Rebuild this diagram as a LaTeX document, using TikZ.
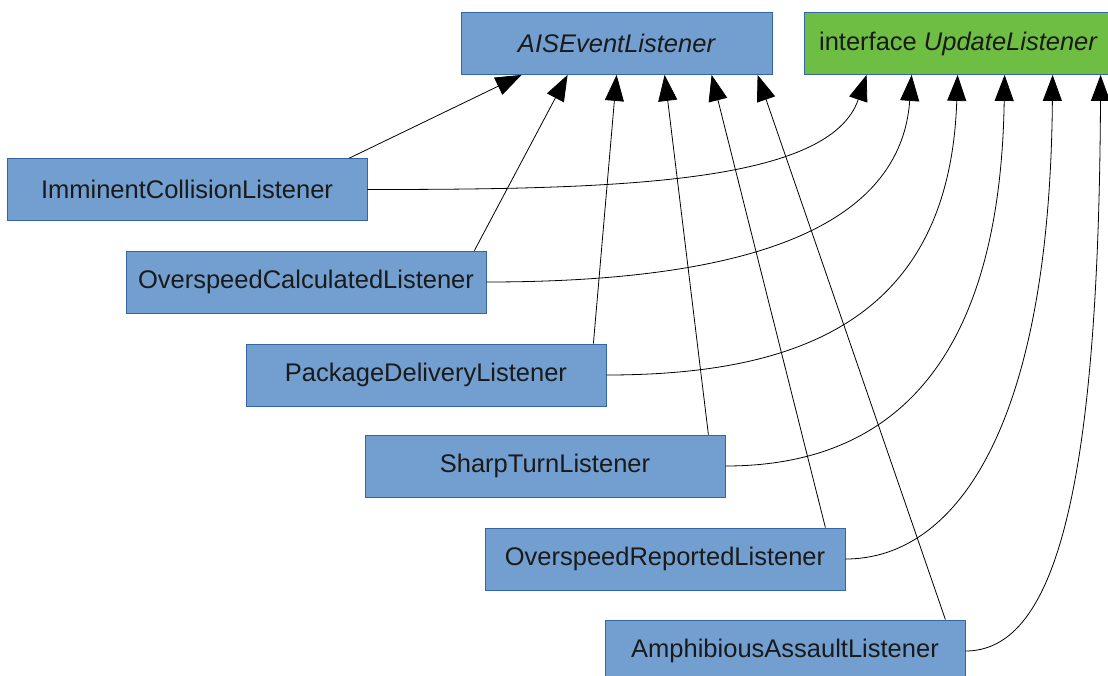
\documentclass[tikz,border=0pt]{standalone}
\usepackage{fontspec}
\setmainfont{Liberation Sans}
\usetikzlibrary{arrows.meta}
\definecolor{boxblue}{HTML}{729FCF}
\definecolor{boxedge}{HTML}{3465A4}
\definecolor{boxgreen}{HTML}{6FBE44}
\definecolor{txt}{HTML}{1A1A1A}
\tikzset{
  cls/.style={draw=boxedge, line width=0.8pt, fill=boxblue, minimum width=360pt, minimum height=62pt, inner sep=0pt, text=txt, font=\fontsize{25.5}{30}\selectfont},
  iface/.style={cls, minimum width=311pt},
  ifacegreen/.style={cls, fill=boxgreen, minimum width=308pt},
  inh/.style={draw=black, line width=0.8pt, -{Triangle[length=26pt,width=19pt]}}
}
\begin{document}
\begin{tikzpicture}[x=1pt,y=-1pt]
\useasboundingbox (0,0) rectangle (1108,675);
\node[iface] (ais) at (616.5,43.5) {\itshape AISEventListener};
\node[ifacegreen] (upd) at (958,43.5) {interface \itshape UpdateListener};
\node[cls] (imm) at (187,189.5) {ImminentCollisionListener};
\node[cls] (ocl) at (306,282) {OverspeedCalculatedListener};
\node[cls] (pkg) at (426,375) {PackageDeliveryListener};
\node[cls] (shp) at (545,466) {SharpTurnListener};
\node[cls] (orl) at (665,559) {OverspeedReportedListener};
\node[cls] (amp) at (785,651) {AmphibiousAssaultListener};
% to AISEventListener
\draw[inh] ([xshift=-18pt]imm.north east) -- ([xshift=61pt]ais.south west);
\draw[inh] ([xshift=-12pt]ocl.north east) -- ([xshift=107pt]ais.south west);
\draw[inh] ([xshift=-13pt]pkg.north east) -- ([xshift=156pt]ais.south west);
\draw[inh] ([xshift=-17pt]shp.north east) -- ([xshift=204pt]ais.south west);
\draw[inh] ([xshift=-20pt]orl.north east) -- ([xshift=251pt]ais.south west);
\draw[inh] ([xshift=-20pt]amp.north east) -- ([xshift=297pt]ais.south west);
% to UpdateListener
\draw[inh] (imm.east) .. controls +(250,0) and +(-37,109) .. ([xshift=63pt]upd.south west);
\draw[inh] (ocl.east) .. controls +(234,0) and +(-12,164) .. ([xshift=108pt]upd.south west);
\draw[inh] (pkg.east) .. controls +(194,0) and +(-8,244) .. ([xshift=154pt]upd.south west);
\draw[inh] (shp.east) .. controls +(135,0) and +(-5,324) .. ([xshift=201pt]upd.south west);
\draw[inh] (orl.east) .. controls +(110,0) and +(-3,354) .. ([xshift=249pt]upd.south west);
\draw[inh] (amp.east) .. controls +(85,0) and +(-2,434) .. ([xshift=297pt]upd.south west);
\end{tikzpicture}
\end{document}
